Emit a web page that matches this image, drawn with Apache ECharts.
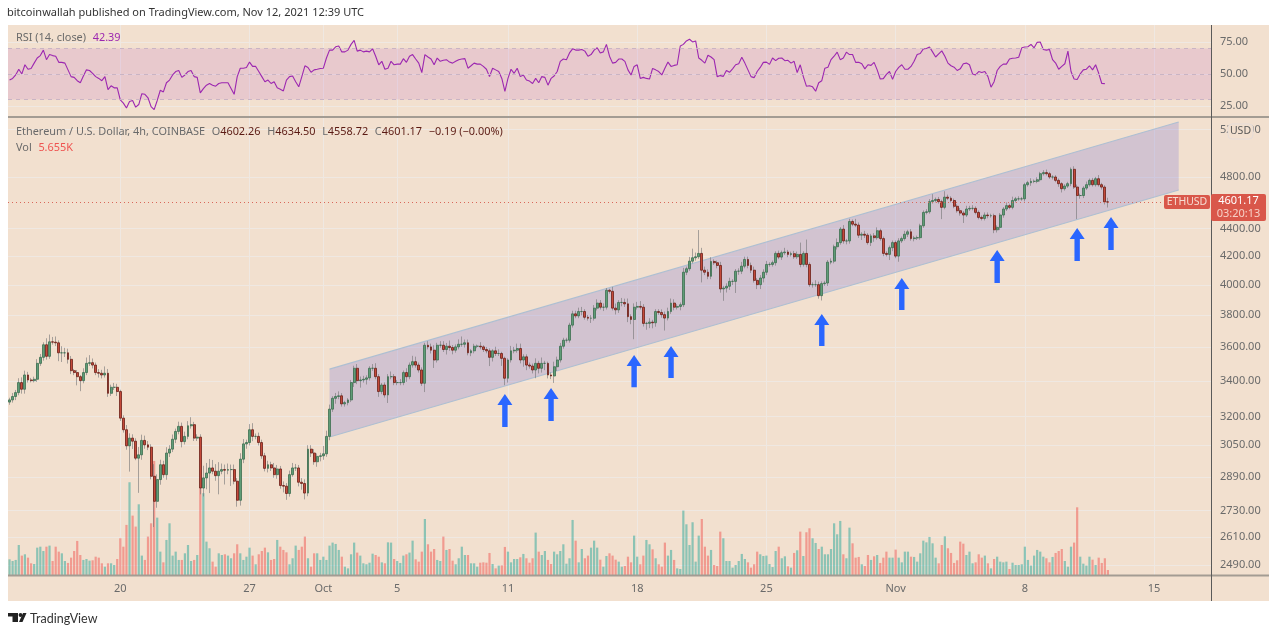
<!DOCTYPE html>
<html><head><meta charset="utf-8">
<style>html,body{margin:0;padding:0;background:#fff}#c{width:1279px;height:630px}</style>
<script src="https://cdn.jsdelivr.net/npm/echarts@6/dist/echarts.min.js"></script>
</head><body><div id="c"></div>
<script>
const tickIndex=[36,78,102,126,162,204,246,288,330,372];
const tickLabels=['20','27','Oct','5','11','18','25','Nov','8','15'];
const priceTicks=[5200,4800,4400,4200,4000,3800,3600,3400,3200,3050,2890,2730,2610,2490];
const rsiTicks=[25,50,75];
const firstOpen=3280;
const closes=[3292,3311,3333,3390,3352,3434,3405,3401,3409,3502,3538,3614,3544,3632,3630,3626,3565,3565,3565,3526,3459,3448,3424,3401,3448,3502,3506,3492,3448,3444,3434,3444,3329,3363,3363,3339,3192,3130,3046,3086,3070,2983,3000,3074,3051,3039,2893,2773,2877,2950,2901,3009,3029,3080,3121,3148,3068,3095,3151,3157,3086,3091,2836,2885,2909,2934,2918,2896,2918,2926,2923,2926,2926,2869,2778,2978,3056,3063,3130,3095,3095,3063,2995,2932,2950,2934,2901,2929,2848,2845,2810,2901,2934,2934,2864,2858,2812,3029,3009,2965,2992,2995,3005,3095,3241,
3301,3311,3315,3270,3277,3292,3390,3473,3401,3405,3409,3417,3473,3473,3424,3339,3376,3320,3424,3424,3390,3390,3390,3448,3424,3492,3512,3492,3463,3386,3611,3601,3581,3522,3611,3611,3585,3605,3597,3581,3601,3617,3617,3626,3565,3577,3605,3605,3601,3585,3577,3538,3577,3561,3561,3532,3415,3522,3577,3581,3591,3522,3541,3492,3486,3463,3502,3473,3502,3502,3434,3428,3482,3522,3605,3642,3642,3736,3808,3795,3823,3823,3786,3780,3780,3845,3878,3851,3851,3963,3956,3845,3834,3882,3882,3873,3790,3772,3851,3856,3851,3747,3747,3755,3751,3823,
3817,3803,3781,3823,3878,3851,3856,3867,4086,4110,4163,4187,4194,4218,4100,4086,4058,4161,4152,4133,3972,3978,3990,4023,4023,4093,4093,4128,4175,4133,4100,4030,4001,4046,4086,4140,4140,4152,4218,4192,4223,4228,4211,4216,4194,4211,4140,4218,4140,4001,4001,4001,3927,4008,4012,4156,4163,4266,4296,4395,4308,4308,4452,4432,4425,4350,4357,4350,4296,4345,4332,4383,4325,4218,4211,4259,4296,4199,4308,4325,4357,4375,4325,4330,4332,4420,4521,4526,4604,4613,4621,4604,4560,4639,4631,4613,4568,4534,4516,4501,4547,4552,4552,4521,4483,4475,4501,4496,4496,4390,4408,
4501,4547,4573,4560,4613,4626,4626,4626,4738,4754,4765,4765,4778,4827,4836,4827,4800,4800,4773,4746,4706,4727,4746,4863,4719,4652,4652,4711,4738,4773,4738,4786,4738,4719,4602.26,4601.17];
const wickUp=[12,20,15,25,30,25,18,12,15,25,20,15,40,45,30,35,15,40,30,25,20,10,15,10,25,35,45,25,15,20,20,40,25,15,25,20,10,15,25,25,20,15,40,30,25,20,15,60,25,25,20,30,20,25,15,25,20,25,25,40,15,15,15,60,50,45,40,35,45,30,25,30,25,25,15,30,25,15,30,35,15,20,15,15,20,15,25,20,15,20,15,20,25,20,15,20,20,20,20,20,15,15,40,30,25,
12,20,25,15,10,10,15,15,25,20,20,15,12,25,30,15,12,15,15,30,15,15,20,12,25,15,35,30,15,15,15,25,20,30,15,25,25,20,35,15,15,30,48,20,20,10,15,10,25,10,15,15,10,25,25,10,10,10,30,20,30,30,15,15,15,15,30,15,35,15,10,15,30,20,20,15,15,15,20,20,25,30,15,15,20,20,25,20,25,15,10,30,30,15,30,25,35,15,25,30,35,20,10,25,15,15,
15,20,20,25,30,25,15,15,30,15,30,65,30,170,40,25,20,30,15,15,25,15,20,25,15,15,20,30,20,20,20,25,15,20,20,25,15,15,15,20,15,30,15,15,20,20,85,15,100,15,15,30,20,15,15,15,20,15,30,15,30,15,20,15,40,20,15,25,15,15,20,25,15,15,15,15,15,15,20,15,25,15,20,15,15,15,15,20,20,50,15,20,15,47,20,15,15,15,20,15,25,20,25,15,15,15,20,20,15,15,15,
15,15,25,15,30,15,20,15,15,15,25,15,20,15,20,25,15,15,15,15,12,15,15,15,25,20,15,15,25,15,20,15,30,15,15,32.24];
const wickDown=[15,15,20,15,25,25,15,10,10,15,15,20,20,15,15,20,50,55,25,25,20,15,50,60,15,15,15,20,15,25,20,15,20,15,15,25,15,15,20,130,40,10,170,25,20,15,15,118,30,25,15,25,20,15,20,15,30,15,15,15,15,15,30,40,55,97,15,25,90,15,70,20,80,15,30,25,20,25,15,25,15,15,15,15,20,15,15,20,15,30,30,15,10,15,20,30,30,15,20,15,25,25,20,15,20,
15,30,15,15,15,15,12,25,20,40,15,30,15,15,15,30,15,15,45,15,15,15,15,15,30,15,15,15,15,15,50,15,20,47,15,15,15,30,20,25,15,15,15,20,15,20,15,12,15,15,15,52,25,15,15,45,40,25,15,15,15,20,40,30,15,20,48,30,25,40,20,18,40,25,15,15,15,15,15,15,15,25,15,15,30,15,15,15,25,15,15,15,30,20,25,20,35,30,124,15,15,20,40,30,35,25,
15,20,79,15,15,20,15,25,15,20,15,15,20,15,84,20,20,20,15,20,25,79,30,25,25,78,25,20,15,20,20,15,30,30,30,20,15,15,20,15,20,15,20,15,15,15,20,15,20,15,20,15,20,32,15,20,15,15,20,15,20,25,20,15,15,20,35,20,15,25,30,15,15,20,15,40,25,15,40,15,15,20,15,20,15,15,15,15,15,15,15,15,90,15,15,15,15,15,20,60,15,15,15,15,15,15,15,20,15,25,20,
20,20,15,15,15,15,15,15,20,15,25,15,15,15,15,15,15,20,15,25,30,15,15,20,15,182,25,20,15,15,15,15,15,20,20,42.45];
const volumesK=[17.7,15.8,17,33.9,21.9,23.4,19.6,13.2,12.4,30.9,32,27.1,32,33.2,15.8,32,26.4,24.5,15.8,13.6,19.6,27.1,38.5,22.6,17,18.1,16.2,16.6,20.7,19.6,13.2,9.4,13.2,13.2,11.3,18.1,41.5,32,56.6,104.8,67.1,54.7,79.9,21.9,17,43.4,58.4,128.9,64.8,26.4,14.3,39.6,58.4,21.9,26.4,17,17,24.5,33.9,15.8,17,22.6,98,92.4,37.7,30.2,15.1,9.4,24.5,22.6,23.4,21.9,18.9,24.5,34.7,24.5,17,20.7,30.9,21.9,12.1,23.4,27.1,30.9,25.6,17,18.1,39.6,32,28.3,25.6,12.1,18.9,33.2,28.3,32,43.4,18.9,9.4,24.5,24.5,
17,20.7,17,33.2,36.6,35.1,28.3,20.7,9.4,7.5,23.4,36.6,25.3,21.9,13.2,12.1,13.9,24.1,22.6,20.7,14.3,13.2,36.9,36.6,18.1,15.8,13.6,21.9,23.4,25.3,38.8,17.7,15.1,26.4,63.3,34.7,26.4,29.4,17,15.8,43.4,28.3,29.4,16.2,12.1,18.9,32,22.6,22.6,13.2,13.2,9.4,13.9,14.3,13.9,24.9,12.4,7.5,10.6,10.9,31.7,26.4,14.3,18.1,18.1,20,23.8,18.9,13.9,18.9,47.9,26.4,22.6,27.1,17,12.4,26.4,23.4,27.1,34.7,12.8,18.9,62.2,38.8,14.3,29.4,18.9,21.9,30.9,38.8,30.9,17.3,9.4,21.5,24.5,21.9,17.3,15.1,9.4,10.2,20.7,14.3,44.5,20.7,12.1,21.9,39.6,34.7,29,18.9,12.1,
9.4,36.6,21.9,28.3,17,7.5,6.8,72.8,57.3,33.9,59.6,15.1,44.5,63.3,32,21.9,28.3,11.3,10.2,49,41.5,15.8,15.8,8.3,11.3,15.8,23.8,18.1,14.3,8.3,12.1,26.4,23.4,21.5,21.9,12.4,9,27.1,32,18.9,21.1,9.8,8.3,24.9,27.9,49,21.5,48.3,52.8,41.5,36.2,29.4,32,23.4,23.4,29.4,58.4,46,61.1,23.4,18.9,53.5,35.8,19.6,20.4,12.1,10.2,22.6,17,21.1,22.6,13.6,19.6,26.4,19.6,19.6,28.7,19.6,14.3,26.4,26.4,20.7,20.4,15.1,24.5,38.8,36.9,43,35.8,19.6,13.2,33.9,43.7,30.2,24.9,13.6,16.6,37.7,35.4,22.6,26.4,13.2,14.3,
23.4,19.6,21.9,13.2,7.5,18.1,20.7,15.1,14.3,15.1,6.8,13.9,11.3,11.3,12.1,32,17,10.6,21.9,28.3,26.4,20.7,18.9,14.3,20.4,24.9,27.1,29.4,15.8,9.4,32,36.6,76.5,20.7,12.8,10.6,20.7,17.3,11.3,19.6,13.6,18.9,5.655];
const rsiValues=[45.2,46.5,49.2,53.7,50,57.2,53.7,54.3,58.5,62.5,64.4,68.7,61.2,65.2,64.4,63.9,59.1,59.1,58.5,53.2,47.9,47.3,44.7,43.1,48.4,53.2,52.7,50.5,47.9,46.5,44.7,47.9,37.7,40.7,39.1,39.1,29.7,27.1,23.3,28.4,29.2,23.9,26,34.5,34,31.3,24.4,22,29.2,37.2,35.9,43.1,45.2,49.2,51.9,52.7,47.3,49.2,51.9,52.7,47.9,47.3,35.1,38.5,41.2,42.5,41.2,40.4,42.5,43.1,43.1,43.1,38.5,34,47.9,54.5,54.5,55.1,59.3,55.9,55.9,51.9,47.9,43.9,45.2,42.5,43.9,39.1,38,36.7,45.2,47.9,48.4,43.9,39.9,47.9,56.4,55.1,51.3,53.2,53.7,54.3,54.5,62.5,68.7,68.7,71.3,71.9,67.3,67.3,68.7,73.2,76.4,67.9,68.7,67.3,67.9,67.3,69.7,63.9,57.2,59.9,53.7,54.5,59.9,57.2,57.7,57.7,62,59.1,63.9,65.2,61.7,58.5,51.1,65.2,63.3,61.7,57.2,62.5,59.9,60.7,61.2,59.3,58.5,59.9,61.2,61.7,62,54.5,56.4,58.5,57.7,57.7,55.9,53.7,47.9,54.5,53.2,51.9,46.5,36.4,46.5,53.7,50.5,54.5,47.9,49.2,45.2,44.4,42.5,46.5,43.1,47.9,47.3,41.2,46.5,48.4,51.9,59.9,61.7,61.2,66.5,69.7,68.7,68.7,69.2,67.9,63.9,65.2,68.7,70.5,66.5,67.3,73.2,63.9,58.5,59.1,61.7,61.7,59.9,53.2,49.2,55.9,57.2,
46.5,47.3,46.5,46,54.3,53.2,51.9,49.2,54.5,59.3,55.9,56.7,57.2,71.9,73.2,75.9,77.2,75.1,75.9,62.5,60.7,58.5,64.7,63.3,61.2,47.9,48.7,48.1,52.7,51.3,54,57.2,58,63.1,58.5,53.2,47.9,47.1,51.9,55.1,59.1,59.3,57.5,62.5,60.4,62.3,62.5,60.4,60.7,58.5,59.9,51.1,57.2,47.9,40.4,40.7,39.9,36.4,43.1,44.7,54.5,55.3,61.2,63.9,67.1,61.2,62.5,67.1,65.2,65.2,59.1,59.1,58,54,57.2,56.7,59.1,53.2,46,46.3,49.7,51.9,45.7,51.9,55.1,57.2,53.7,53.7,55.9,59.9,65.2,66,69.7,70,71.1,67.3,63.3,65.7,68.1,63.9,58.5,56.4,55.3,52.7,54,58,58.5,57.2,50,49.2,51.9,51.1,51.9,47.9,39.6,43.9,52.7,55.9,57.7,57.7,61.7,62.3,62.5,63.1,70.5,71.1,71.3,73.2,70.5,74.8,75.1,69.2,68.7,69.2,61.2,58.5,53.7,55.9,58,67.9,51.9,46,45.7,50,53.2,53.7,56.4,53.2,57.2,50.5,42.5,42.39];
const channelEdges=[[104,3468,3092,380,5268,4696]];
const arrowIdx=[161,176,203,215,264,290,321,347,358];
const arrowTip=[3325,3359,3552,3606,3807,4046,4242,4403,4486];
const arrowTail=[3144,3176,3364,3416,3606,3833,4012,4164,4242];
const lastPrice=4601.17;

const BARS=391;
const categories=Array.from({length:BARS},(_,i)=>{const k=tickIndex.indexOf(i);return k>=0?tickLabels[k]:'';});
const opens=closes.map((c,i)=>i?closes[i-1]:firstOpen);
const wickData=closes.map((c,i)=>[opens[i],c,Math.min(opens[i],c)-(wickDown[i]||0),Math.max(opens[i],c)+(wickUp[i]||0)]);
const bodyData=closes.map((c,i)=>[opens[i],c,Math.min(opens[i],c),Math.max(opens[i],c)]);
const volData=volumesK.map((v,i)=>({value:v,itemStyle:{color:closes[i]>=opens[i]?'rgba(38,166,154,.5)':'rgba(239,83,80,.5)'}}));
const arrowData=arrowIdx.map((x,i)=>[x,arrowTip[i],arrowTail[i]]);
const hasLabel=(i,v)=>v!=='';
const GRID='#efe8e2', FONT='"Noto Sans",sans-serif', AX='#6a6a6a';
const vGrid={show:true,interval:hasLabel,alignWithLabel:true,lineStyle:{color:GRID,width:1}};
const txt=(x,y,text,size,color,extra)=>({type:'text',x,y,z:100,silent:true,style:Object.assign({text,fontFamily:FONT,fontSize:size,fill:color,verticalAlign:'middle'},extra||{})});
const rich=(x,y,text,colorB)=>({type:'text',x,y,z:100,silent:true,style:{text,verticalAlign:'middle',rich:{a:{fontFamily:FONT,fontSize:10.9,fill:'#6a6a6a'},b:{fontFamily:FONT,fontSize:10.9,fill:colorB}}}});
const rect=(x,y,w,h,fill,z,r)=>({type:'rect',silent:true,z:z,shape:{x,y,width:w,height:h,r:r||0},style:{fill}});
const line=(a,b,c,d,color,w)=>({type:'line',silent:true,z:90,shape:{x1:a,y1:b,x2:c,y2:d},style:{stroke:color,lineWidth:w}});

const option={
 animation:false,backgroundColor:'#ffffff',
 grid:[{left:8,right:68,top:25,height:91,containLabel:false},{left:8,right:68,top:118,height:457}],
 xAxis:[
  {type:'category',gridIndex:0,data:categories,axisLine:{show:false},axisTick:{show:false},axisLabel:{show:false},splitLine:vGrid},
  {type:'category',gridIndex:1,data:categories,axisLine:{show:false},axisTick:{show:false},
   axisLabel:{show:true,interval:hasLabel,color:AX,fontFamily:FONT,fontSize:11,margin:8,hideOverlap:false},splitLine:vGrid}
 ],
 yAxis:[
  {type:'value',gridIndex:0,position:'right',min:17,max:88.4,axisLine:{show:false},axisTick:{show:false,customValues:rsiTicks},
   axisLabel:{customValues:rsiTicks,color:AX,fontFamily:FONT,fontSize:11,margin:9,formatter:v=>Number(v).toFixed(2)},splitLine:{show:true,lineStyle:{color:GRID}}},
  {type:'log',gridIndex:1,position:'right',min:2448,max:5304,logBase:10,axisLine:{show:false},axisTick:{show:false,customValues:priceTicks},
   axisLabel:{customValues:priceTicks,color:AX,fontFamily:FONT,fontSize:11,margin:9,formatter:v=>Number(v).toFixed(2)},splitLine:{show:true,lineStyle:{color:GRID}}},
  {type:'value',gridIndex:1,min:0,max:516.4,show:false,splitLine:{show:false}}
 ],
 series:[
  {type:'line',name:'RSI',xAxisIndex:0,yAxisIndex:0,data:rsiValues,symbol:'none',z:4,lineStyle:{color:'#9c27b0',width:1.1},
   markArea:{silent:true,itemStyle:{color:'rgba(170,50,190,.13)'},data:[[{yAxis:30},{yAxis:70}]]},
   markLine:{silent:true,symbol:'none',label:{show:false},lineStyle:{color:'#c9b4c4',type:[4,4],width:1},data:[{yAxis:70},{yAxis:50},{yAxis:30}]}},
  {type:'custom',name:'Channel',xAxisIndex:1,yAxisIndex:1,z:1,silent:true,data:channelEdges,encode:{x:[0,3],y:[1,2,4,5]},
   renderItem:(p,api)=>{
    const a=api.coord([api.value(0),api.value(1)]),b=api.coord([api.value(3),api.value(4)]),
          c=api.coord([api.value(3),api.value(5)]),d=api.coord([api.value(0),api.value(2)]);
    return {type:'group',children:[
     {type:'polygon',shape:{points:[a,b,c,d]},style:{fill:'rgba(130,122,212,.28)'}},
     {type:'line',shape:{x1:a[0],y1:a[1],x2:b[0],y2:b[1]},style:{stroke:'#aebfd2',lineWidth:1.2}},
     {type:'line',shape:{x1:d[0],y1:d[1],x2:c[0],y2:c[1]},style:{stroke:'#aebfd2',lineWidth:1.2}}]};
   }},
  {type:'bar',name:'Vol',xAxisIndex:1,yAxisIndex:2,data:volData,barWidth:2.2,z:2},
  {type:'candlestick',name:'Wicks',xAxisIndex:1,yAxisIndex:1,data:wickData,barWidth:1,z:3,
   itemStyle:{color:'rgba(115,115,117,.6)',color0:'rgba(115,115,117,.6)',borderColor:'rgba(115,115,117,.6)',borderColor0:'rgba(115,115,117,.6)',borderWidth:1},
   markLine:{silent:true,symbol:'none',label:{show:false},lineStyle:{color:'#d9675a',type:[1,3],width:1},data:[{yAxis:lastPrice}]}},
  {type:'candlestick',name:'ETHUSD',xAxisIndex:1,yAxisIndex:1,data:bodyData,barWidth:2.4,z:4,
   itemStyle:{color:'#5f9c77',color0:'#c44a3a',borderColor:'#3d6f50',borderColor0:'#6b2018',borderWidth:.8}},
  {type:'custom',name:'Arrows',xAxisIndex:1,yAxisIndex:1,z:6,silent:true,data:arrowData,encode:{x:0,y:[1,2]},
   renderItem:(p,api)=>{
    const t=api.coord([api.value(0),api.value(1)]),e=api.coord([api.value(0),api.value(2)]);
    const x=t[0],y=t[1],b=e[1];
    return {type:'polygon',shape:{points:[[x,y],[x+7.5,y+11],[x+2.7,y+11],[x+2.7,b],[x-2.7,b],[x-2.7,y+11],[x-7.5,y+11]]},style:{fill:'#2a66ff'}};
   }}
 ],
 graphic:{elements:[
  rect(8,25,1261,576,'#f2e0cf',-100),
  line(8,117,1269,117,'#a39c93',2),
  line(8,575.5,1269,575.5,'#a39c93',2),
  line(1211.5,25,1211.5,601,'#5a5a5a',1),
  txt(7,13,'bitcoinwallah published on TradingView.com, Nov 12, 2021 12:39 UTC',11,'#333333'),
  rich(16,38,'{a|RSI (14, close)}  {b|42.39}','#9c27b0'),
  rich(16,132,'{a|Ethereum / U.S. Dollar, 4h, COINBASE}  {a|O}{b|4602.26}  {a|H}{b|4634.50}  {a|L}{b|4558.72}  {a|C}{b|4601.17}  {b|\u22120.19 (\u22120.00%)}','#5b1a13'),
  rich(16,148,'{a|Vol}  {b|5.655K}','#ef5350'),
  rect(1164,195,46,14,'#d9574a',95,2),
  txt(1187,202,'ETHUSD',10.5,'#f6dcd2',{align:'center'}),
  rect(1211,194,55,27,'#d9574a',95,2),
  txt(1238.5,201,'4601.17',11,'#ffffff',{align:'center'}),
  txt(1238.5,214,'03:20:13',11,'#f6d0c6',{align:'center'}),
  {type:'rect',silent:true,z:95,shape:{x:1228,y:124,width:25,height:15,r:4},style:{fill:'#f2e0cf',stroke:'#e6ddd9',lineWidth:1}},
  txt(1240.5,131.5,'USD',10.5,'#555555',{align:'center'}),
  rect(8,613,10,3.5,'#222222',96),
  rect(12.5,613,5.5,9,'#222222',96),
  {type:'circle',silent:true,z:96,shape:{cx:20.5,cy:615,r:1.9},style:{fill:'#222222'}},
  {type:'polygon',silent:true,z:96,shape:{points:[[23,613],[26.5,613],[22.5,622],[19,622]]},style:{fill:'#222222'}},
  txt(30,618.5,'TradingView',12.5,'#333333',{fontFamily:'Lato,sans-serif'})
 ]}
};
const chart=echarts.init(document.getElementById('c'),null,{renderer:'canvas'});
chart.setOption(option);
</script></body></html>
